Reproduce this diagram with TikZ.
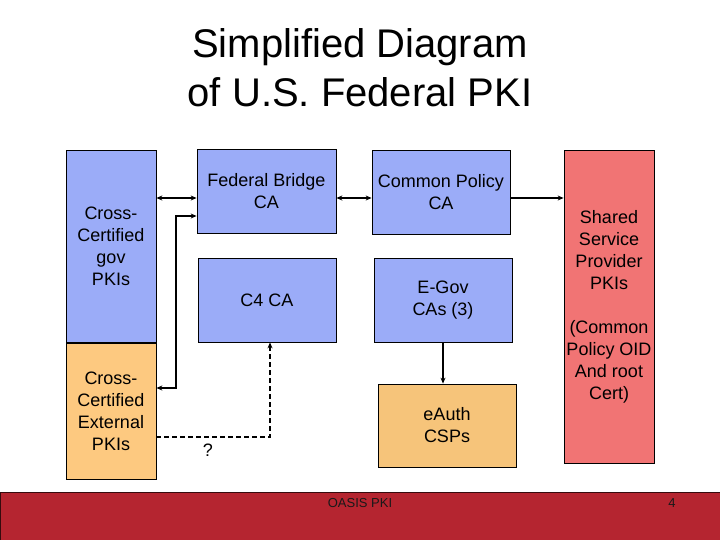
\documentclass[tikz,border=0pt]{standalone}
\usepackage{fontspec}
\setmainfont{Liberation Sans}
\usetikzlibrary{arrows.meta, positioning}
\definecolor{cablue}{RGB}{155,172,248}
\definecolor{extorange}{RGB}{253,201,128}
\definecolor{authorange}{RGB}{246,196,122}
\definecolor{sspred}{RGB}{241,116,116}
\definecolor{footred}{RGB}{181,37,48}
\tikzset{
  cabox/.style={rectangle, draw=black, line width=0.8pt, fill=cablue,
    align=center, inner sep=2pt, font=\fontsize{18}{22}\selectfont},
  extbox/.style={cabox, fill=extorange},
  authbox/.style={cabox, fill=authorange},
  sspbox/.style={cabox, fill=sspred},
  flecha/.style={-{Stealth[length=6pt,width=5pt]}, line width=1.4pt},
  flechados/.style={{Stealth[length=6pt,width=5pt]}-{Stealth[length=6pt,width=5pt]}, line width=1.4pt},
  trazos/.style={flecha, dash pattern=on 5pt off 3pt},
  pie/.style={font=\fontsize{13}{15}\selectfont, text=black!90}
}
\begin{document}
\begin{tikzpicture}[x=1pt, y=-1pt]
  \useasboundingbox (0,0) rectangle (720,540);
  % title
  \node[font=\fontsize{40}{49}\selectfont, align=center] (titulo) at (360,68)
    {Simplified Diagram\\of U.S. Federal PKI};
  % left column
  \node[cabox, minimum width=90pt, minimum height=192pt] (govpki) at (111,246)
    {Cross-\\Certified\\gov\\PKIs};
  \node[extbox, minimum width=90pt, minimum height=136pt] (extpki) at (111,411)
    {Cross-\\Certified\\External\\PKIs};
  % CAs
  \node[cabox, minimum width=139pt, minimum height=84pt] (fbca) at (266.5,191)
    {Federal Bridge\\CA};
  \node[cabox, minimum width=138pt, minimum height=84pt] (c4) at (267,300) {C4 CA};
  \node[cabox, minimum width=138pt, minimum height=84pt] (cpca) at (441,192)
    {Common Policy\\CA};
  \node[cabox, minimum width=138pt, minimum height=84pt] (egov) at (443,300)
    {E-Gov\\CAs (3)};
  \node[authbox, minimum width=138pt, minimum height=83pt] (eauth) at (447,425.5)
    {eAuth\\CSPs};
  \node[sspbox, minimum width=90pt, minimum height=313pt] (ssp) at (609,306.5)
    {Shared\\Service\\Provider\\PKIs\\[22pt](Common\\Policy OID\\And root\\Cert)};
  % connectors
  \coordinate (fbin) at ([yshift=-7pt]fbca.west);
  \coordinate (fbin2) at ([yshift=-25pt]fbca.west);
  \coordinate (fbout) at ([yshift=-7pt]fbca.east);
  \coordinate (cpout) at ([yshift=-6pt]cpca.east);
  \coordinate (ejeizq) at (176,388);
  \coordinate (esq) at (270,437);
  \draw[flechados] (govpki.east |- fbin) -- (fbin);
  \draw[flechados] (fbout) -- (cpca.west |- fbout);
  \draw[flechados] (fbin2) -| (ejeizq) -- (extpki.east |- ejeizq);
  \draw[trazos] (extpki.east |- esq) -- (esq) -- (esq |- c4.south);
  \node[font=\fontsize{18}{20}\selectfont] (interr) at (208,450) {?};
  \draw[flecha] (cpout) -- (ssp.west |- cpout);
  \draw[flecha] (egov.south) -- (egov.south |- eauth.north);
  % footer
  \filldraw[fill=footred, draw=black!70!footred, line width=0.8pt] (0,492) rectangle (720,541);
  \node[pie] (oasis) at (360,503) {OASIS PKI};
  \node[pie] (pagina) at (672,503) {4};
\end{tikzpicture}
\end{document}
